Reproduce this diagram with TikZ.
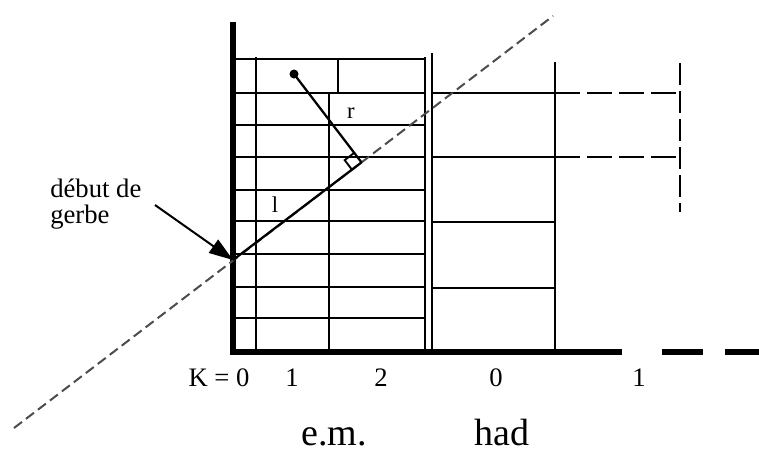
\documentclass[tikz,border=0pt]{standalone}
\usepackage{fontspec}
\setmainfont{Liberation Serif}
\usetikzlibrary{arrows.meta,calc}
\begin{document}
\begin{tikzpicture}[x=0.75pt,y=-0.75pt,
  gridline/.style={line width=1.7pt},
  thickax/.style={line width=4.6pt},
  showeraxis/.style={line width=1.5pt, color=black!70, dash pattern=on 7.5pt off 3.8pt},
  hdash/.style={line width=1.7pt, dash pattern=on 18.75pt off 5.25pt},
  vdash/.style={line width=1.7pt, dash pattern=on 16.5pt off 4.5pt},
  lab/.style={font=\fontsize{20}{24}\selectfont, inner sep=0pt, anchor=base},
  biglab/.style={font=\fontsize{28.5}{34}\selectfont, inner sep=0pt, anchor=base},
  smalllab/.style={font=\fontsize{17}{20}\selectfont, inner sep=0pt}]
\useasboundingbox (0,0) rectangle (759,451);

% key points
\coordinate (S0) at (14,428);
\coordinate (S1) at (553,16);
\coordinate (A) at (233,260);
\coordinate (D) at (294,74);
\coordinate (F) at ($(S0)!(D)!(S1)$);
\coordinate (P1) at ($(F)!9pt!(A)$);
\coordinate (P2) at ($(F)!9pt!(D)$);
\coordinate (PC) at ($(P1)+(P2)-(F)$);

% EM grid
\foreach \y in {59,93,125,157,190,221,254,287,318}
  \draw[gridline] (233,\y) -- (425,\y);
\draw[gridline] (256,57) -- (256,352);
\draw[gridline] (338,59) -- (338,93);
\draw[gridline] (329,93) -- (329,352);
\draw[gridline] (425,57) -- (425,352);
\draw[gridline] (432,53) -- (432,352);

% hadronic grid
\foreach \y in {93,157,222,288}
  \draw[gridline] (432,\y) -- (555,\y);
\draw[gridline] (555,62) -- (555,352);
\draw[hdash] (555,93) -- (678,93);
\draw[hdash] (555,157) -- (678,157);
\draw[vdash] (680,63) -- (680,212);

% axes
\draw[thickax, line join=miter] (233,22) -- (233,352) -- (622,352);
\draw[thickax, dash pattern=on 30.75pt off 16.5pt] (662,352) -- (759,352);

% shower axis
\draw[showeraxis] (S0) -- (S1);
\draw[line width=1.7pt] (A) -- (F);
\draw[line width=1.7pt] (D) -- (F);
\fill (D) circle (4.5);
\draw[line width=1.4pt] (P1) -- (PC) -- (P2);

% labels
\node[smalllab] (r) at (351,113) {r};
\node[smalllab] (l) at (275,205) {l};
\node[lab, anchor=base west] (deb) at (50,197) {début de};
\node[lab, anchor=base west] (gerbe) at (50,223) {gerbe};
\coordinate (arrS) at (155,205);
\draw[line width=1.5pt, -{Triangle[length=18pt,width=12pt]}] (arrS) -- (A);

\node[lab] (k0) at (219,386) {K = 0};
\node[lab] (k1) at (292,386) {1};
\node[lab] (k2) at (381,386) {2};
\node[lab] (h0) at (496,386) {0};
\node[lab] (h1) at (639,386) {1};
\node[biglab] (em) at (334,445) {e.m.};
\node[biglab] (had) at (502,445) {had};
\end{tikzpicture}
\end{document}
